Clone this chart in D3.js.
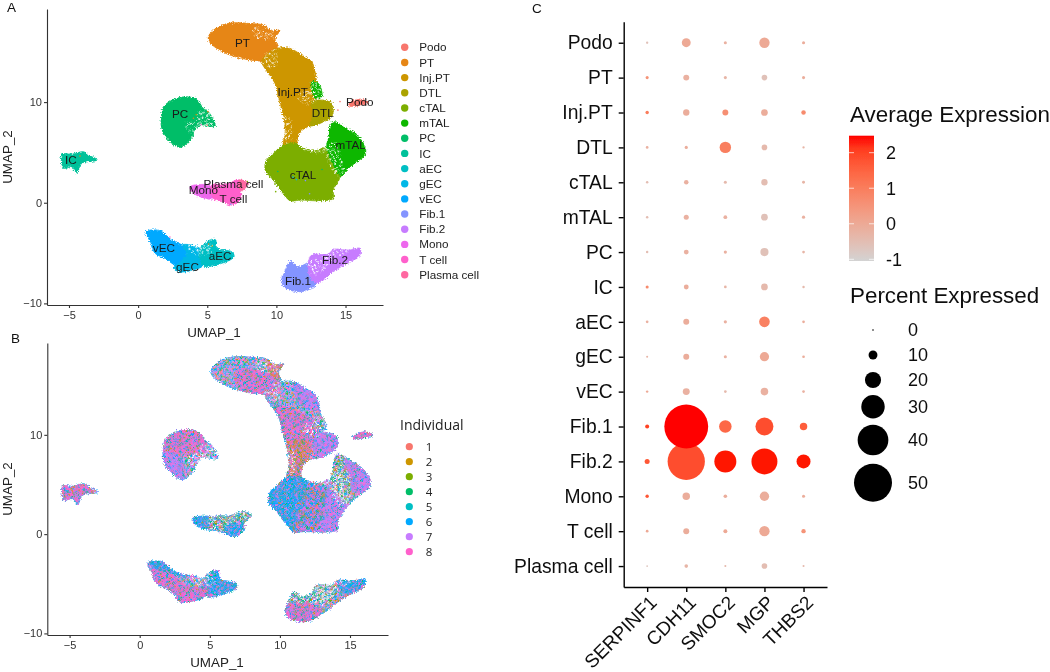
<!DOCTYPE html>
<html><head><meta charset="utf-8">
<script src="https://cdn.jsdelivr.net/npm/d3@7"></script>
<style>html,body{margin:0;padding:0;background:#fff}svg{display:block;font-family:"Liberation Sans",Arial,sans-serif}</style>
</head><body><svg id="c" width="1050" height="672"></svg>
<script>
// ---------- Data ----------
const clusters = ["Podo","PT","Inj.PT","DTL","cTAL","mTAL","PC","IC","aEC","gEC","vEC","Fib.1","Fib.2","Mono","T cell","Plasma cell"];
const clusterColors = ["#F8766D","#E68613","#CD9600","#ABA300","#7CAE00","#0CB702","#00BE67","#00C19A","#00BFC4","#00B8E7","#00A9FF","#8494FF","#C77CFF","#ED68ED","#FF61CC","#FF68A1"];
const individuals = ["1","2","3","4","5","6","7","8"];
const individualColors = ["#F8766D","#CD9600","#7CAE00","#00BE67","#00BFC4","#00A9FF","#C77CFF","#FF61CC"];
const genes = ["SERPINF1","CDH11","SMOC2","MGP","THBS2"];
const umapXTicks = [-5,0,5,10,15];
const umapYTicks = [-10,0,10];
const pctTicks = [0,10,20,30,40,50];
const exprTicks = [-1,0,1,2];

// Cluster outlines in UMAP units
const outlines = [
 ["PT",[[5.08,16.49],[5.45,17.15],[6.05,17.65],[6.89,17.88],[8.1,17.81],[9.06,17.65],[9.66,17.09],[10.27,17.15],[9.9,16.32],[10.07,15.33],[9.3,14.34],[9.06,14.11],[7.86,14.24],[6.65,14.67],[5.69,15.33],[5.16,15.99]]],
 ["Inj.PT",[[10.07,15.33],[10.99,15.33],[11.83,14.67],[12.55,14.01],[12.8,13.01],[12.92,11.85],[13.16,10.53],[12.55,10.03],[12.67,9.37],[12.55,7.55],[11.71,7.05],[11.47,5.89],[10.51,5.73],[10.63,6.89],[10.51,8.54],[10.14,10.53],[9.9,11.85],[9.42,12.85],[8.94,14.17]]],
 ["DTL",[[12.55,10.03],[13.88,10.03],[14.12,9.37],[14,8.54],[13.16,7.88],[12.43,7.38],[12.63,8.87]]],
 ["mTAL",[[12.55,12.02],[13.04,11.85],[13.28,10.53],[12.8,10.36]]],
 ["mTAL",[[13.88,7.55],[14.12,8.05],[15.08,7.38],[15.93,6.56],[16.41,5.56],[16.41,4.74],[15.81,4.07],[15.2,3.41],[14.6,2.58],[14.36,3.25],[13.76,4.24],[13.64,5.56]]],
 ["cTAL",[[10.51,5.73],[11.47,5.89],[12.19,5.4],[13.52,5.4],[13.88,4.24],[14.36,3.08],[14.6,2.58],[14.12,1.26],[14.12,0.43],[13.16,0.2],[11.71,0.26],[10.99,0.2],[10.39,1.09],[9.78,2.25],[9.18,3.25],[9.3,4.24],[9.78,4.9]]],
 ["PC",[[1.71,8.87],[1.83,9.54],[2.55,10.26],[3.52,10.53],[4.24,10.26],[4.72,9.37],[5.08,9.04],[5.57,7.62],[4.48,7.72],[4.12,7.22],[3.76,6.23],[3.04,5.5],[2.31,6.06],[1.83,6.89],[1.66,7.88]]],
 ["IC",[[-5.52,4.83],[-4.8,4.83],[-3.95,5.07],[-3.59,4.74],[-2.94,4.24],[-4.07,3.91],[-4.43,2.98],[-4.8,3.58],[-5.4,3.41],[-5.54,4.07]]],
 ["Mono",[[3.76,1.59],[4.72,1.82],[5.45,1.59],[5.45,0.43],[4.48,0.6],[3.88,1.09]]],
 ["T cell",[[5.33,1.75],[6.41,1.85],[7.25,2.25],[7.37,1.26],[7.49,0.6],[6.89,-0.23],[6.05,0.1],[5.45,0.43]]],
 ["Plasma cell",[[7.25,2.25],[7.98,1.92],[7.49,1.19],[7.37,1.26]]],
 ["vEC",[[0.58,-2.88],[1.59,-2.78],[2.43,-3.71],[3.16,-4.2],[3.52,-5.03],[2.8,-6.19],[1.95,-5.53],[1.23,-5.03],[0.87,-3.87]]],
 ["gEC",[[3.16,-4.2],[4.48,-4.54],[4.72,-6.19],[3.76,-6.75],[2.92,-6.85],[2.55,-6.36],[2.8,-6.19],[3.52,-5.03]]],
 ["aEC",[[4.48,-4.54],[5.57,-3.64],[5.73,-4.54],[6.77,-4.87],[6.94,-5.36],[6.17,-5.96],[4.72,-6.26]]],
 ["Fib.1",[[10.39,-7.52],[10.51,-7.19],[10.8,-6.19],[10.99,-5.79],[11.59,-6.36],[12.31,-6.03],[12.43,-7.35],[12.92,-8.01],[12.07,-8.77],[11.23,-8.77],[10.51,-8.34]]],
 ["Fib.2",[[12.31,-6.03],[12.55,-5.2],[13.76,-5.1],[14.12,-4.64],[15.2,-4.7],[16.05,-4.54],[16,-5.3],[15.08,-6.03],[14.12,-6.85],[13.4,-7.68],[12.92,-8.01],[12.43,-7.35]]],
 ["Podo",[[15.2,9.87],[16.1,10.3],[16.65,9.93],[16.05,9.7],[15.28,9.6]]]
];
// Empty and sparsely populated areas of the embedding
const holeOutline = [[11.59,6.56],[12.07,7.38],[13.16,7.62],[13.76,7.22],[13.59,5.89],[12.92,5.23],[12.07,5.4],[11.59,5.73]];
const sparseOutlines = [
 [[8.34,17.4],[9.66,17.1],[9.9,16.3],[8.4,16.5]],
 [[13.64,5.6],[14.3,6],[14.7,4.5],[14.9,3.3],[14.5,2.7],[13.8,3.8]],
 [[11.9,5.7],[13.6,5.5],[13.5,5],[12,5.2]],
 [[3.5,-4.2],[5.3,-4],[5.3,-4.9],[4.1,-5.2]],
 [[12.3,-6],[14,-5.2],[13.6,-6.6],[12.6,-7.2]],
 [[14.1,-4.7],[15.2,-4.8],[14.8,-5.3],[14,-5.2]],
 [[3.4,8],[4.5,8],[4.4,7],[3.6,7]],
 [[4.3,9],[5.5,8.8],[5.5,7.7],[4.4,7.8]],
 [[11.7,11],[12.9,11],[12.8,9.9],[11.7,10]],
 [[12.5,12],[13.1,11.9],[13.3,10.5],[12.8,10.3]],
 [[8.9,14.3],[10,15.3],[9.9,13.5],[9.3,13.5]],
 [[10.5,8.6],[11,8.4],[11,6],[10.6,6]]
];
// Areas of panel B where one individual dominates: [tile, outline]
const individualPatches = [
 ["pink",[[7,16.6],[9.5,16],[10,14.5],[9,13.9],[7.5,14.2],[6.8,15.2]]],
 ["orange",[[9.2,17.8],[10.4,17.4],[10.1,15.8],[9.2,16.2]]],
 ["pink",[[9.6,12.9],[11,12.6],[12.3,11.5],[12.6,9.6],[11.5,9],[10.3,9.6],[9.8,11.5]]],
 ["orange",[[10.4,9.2],[12.2,9.2],[12,7.2],[11.5,5.7],[10.4,5.7]]],
 ["purple",[[12.5,10.2],[14.2,10.2],[14.2,8.4],[12.6,7.8]]],
 ["purple",[[14.4,7.6],[16.6,5.5],[16,4.2],[15,4.5],[14.8,6]]],
 ["purple",[[11,15.4],[12.9,14],[12.9,12.5],[11.5,13]]],
 ["green",[[13.7,7.7],[14.4,7.7],[15,5.5],[15,3.5],[14.4,2.8],[13.8,4.2],[13.6,5.8]]],
 ["blue",[[9,5.2],[12,5.6],[12.8,3.5],[11.5,2.5],[10.8,0.1],[9,3]]],
 ["purple",[[11.2,0],[14.3,0],[14.8,2.6],[13.4,4.6],[12.5,4.2],[11.6,2.5]]],
 ["mix",[[10.9,0],[12.3,0],[13.3,4.7],[12.1,5.2],[11.5,2.8]]],
 ["pink",[[1.6,10.7],[4.4,10.7],[4.7,8.4],[2.8,8],[1.6,8.3]]],
 ["purple",[[1.6,8.2],[2.9,7.8],[3.1,5.4],[1.6,6.5]]],
 ["pink",[[-5.7,5.1],[-3.4,5.1],[-3.4,3.6],[-5.7,3.3]]],
 ["blue",[[3.6,2],[5,2],[5,0.6],[3.6,0.8]]],
 ["green",[[5,2],[8,2.3],[7.5,0.8],[5,0.6]]],
 ["blue",[[6.2,0.9],[7.6,0.9],[7.2,-0.4],[6.2,-0.4]]],
 ["pink",[[0.9,-3.3],[2,-3.6],[3.3,-5.2],[5,-5.5],[5,-6.9],[2.7,-7],[1,-5]]],
 ["blue",[[0.5,-2.7],[2.5,-2.7],[3.2,-4.2],[2.1,-3.9],[0.9,-3.4]]],
 ["blue",[[5,-3.5],[7,-4.5],[7,-5.5],[5,-6]]],
 ["pink",[[10.3,-6.7],[12.5,-7],[13,-8],[12,-8.9],[10.3,-8.4]]],
 ["green",[[10.8,-5.7],[12.5,-5],[14.2,-5],[13.5,-7],[12.5,-7],[10.3,-6.7]]],
 ["blue",[[14.1,-4.4],[16.1,-4.4],[16.1,-5.3],[14.6,-6],[14.2,-5.5]]],
 ["orange",[[14.1,-6.6],[15.6,-5.6],[16.1,-5],[16.1,-5.5],[15,-6.3],[14,-7]]],
 ["pink",[[15,10.4],[16.7,10.4],[16.7,9.5],[15,9.5]]]
];
// Individually visible stray cells: [UMAP_1, UMAP_2, cluster]
const strayCells = [[11.45,2.3,"vEC"],[11.2,2.55,"gEC"],[12.4,0.9,"Fib.1"],[12.1,2.2,"Fib.1"],[10.1,3.1,"PC"],[4,8.4,"PT"],[4.2,8.75,"Inj.PT"],[5.05,9.05,"PT"],[5,7.7,"Podo"],[4.55,7.75,"T cell"],[14.45,9.2,"Podo"],[14.6,10.05,"Podo"],[-4.2,4.65,"PT"],[5.35,-4.3,"Inj.PT"],[5.1,-4.1,"PT"],[2.3,-3.4,"T cell"],[6.7,-0.15,"Fib.1"],[7.9,2.1,"cTAL"],[13.3,3.3,"PC"],[9.95,1.1,"cTAL"]];

const dotRows = clusters;
const pctSerpinf1 = [1,2,2.5,1.5,1.2,1.2,1.2,2,1.5,0.6,1.2,3.3,4.7,2.5,1.5,0.3];
const pctCdh11    = [10,6,6.5,2.2,4,4.7,4.5,4.5,6,6,7.4,58,49,8,6,2.8];
const pctSmoc2    = [2,2,6,13.5,2,3,2.2,1.5,2.2,2,1.5,15,28,2.8,3.3,0.6];
const pctMgp      = [12,5.5,7,5.5,6.5,7,9,7,12.4,10.5,8.2,22.5,33.5,10.7,12,5.5];
const pctThbs2    = [2,2,4,1,1.8,2.2,1.5,1.2,1.5,1.5,1.5,8,17,2,3.8,0.6];
const expSerpinf1 = [-0.6,0.5,1,-0.2,-0.5,-0.5,-0.5,0.7,-0.2,-0.3,0,2,1.7,1.7,0,-0.7];
const expCdh11    = [0,-0.2,-0.1,-0.1,-0.2,-0.2,-0.2,-0.1,-0.1,-0.1,-0.2,2.47,1.85,-0.1,-0.1,-0.3];
const expSmoc2    = [-0.2,-0.3,0.6,0.95,-0.4,-0.2,-0.2,-0.3,-0.2,-0.2,-0.4,1.4,2.4,-0.1,0,-0.4];
const expMgp      = [0,-0.6,-0.1,-0.4,-0.5,-0.6,-0.6,-0.4,0.9,0,-0.2,1.85,2.4,-0.1,0,-0.5];
const expThbs2    = [-0.1,-0.1,0.7,-0.3,-0.3,-0.2,-0.3,-0.4,-0.1,-0.1,-0.2,1.6,2.4,-0.1,0.5,-0.4];
const pctByGene = [pctSerpinf1,pctCdh11,pctSmoc2,pctMgp,pctThbs2];
const expByGene = [expSerpinf1,expCdh11,expSmoc2,expMgp,expThbs2];

// Label anchors in UMAP units
const clusterLabels = [["PT",7.54,15.9],["Inj.PT",11.18,11.06],["DTL",13.35,8.94],["mTAL",15.37,5.73],["Podo",16.03,10],["PC",3.04,8.87],["IC",-4.87,4.24],["cTAL",11.93,2.8],["Plasma cell",6.89,1.89],["Mono",4.72,1.23],["T cell",6.89,0.36],["vEC",1.86,-4.5],["gEC",3.57,-6.36],["aEC",5.93,-5.33],["Fib.2",14.24,-5.63],["Fib.1",11.57,-7.78]];

// Texture tiles (style only): digits are individuals, w = white, . = clear
const tiles = {
 mix:["867468675867","678716864768","726586417268","786672858647","867841867576","472868186784","658267687872","786175426867","746828678415","678674818726","671884765248","846726784673"],
 pink:["888678884868","868884688728","788648878886","888287886488","468888768828","888768882678","828846887888","688887468286","887268888748","478888628887","886748878468","768828886888"],
 blue:["666866746664","768667668566","664666286676","586678666846","667466758666","846667668476","666586646687","766846876665","668667466486","456687668667","667668546676","864667668658"],
 purple:["777867787467","867778677787","778767867778","677487778677","787776877867","778678764777","867777487678","777867778776","476778677787","778877467877","687767787678","777486778767"],
 orange:["828228682482","288682828268","682828247828","828286822882","248828682828","828682288268","882828468282","628288282784","828468828828","282882672882","868228828468","228842882828"],
 green:["4w6845w2738w","74w2684w5w46","w528w7462w84","843w6w2745w7","2w6748w4w368","74w5w2846w72","w846372w5w84","5w284w7634w2","6742w5w8w746","4w8w6743w2w5","72w546w8w478","w684w2745w63"],
 sparse:["...w.....w..","w.....w.....","....w.....w.","..w.....w...",".....w......","w..w.....w.w",".....w......","..w.....w...","......w.....","w...w.....w.","..w....w....",".....w....w."]
};

// ---------- Layout ----------
const svg = d3.select("#c");
const defs = svg.append("defs");
const fs = defs.append("filter").attr("id","soft").attr("x","-5%").attr("y","-5%").attr("width","110%").attr("height","110%");
fs.append("feGaussianBlur").attr("stdDeviation",0.35);
const fc = defs.append("filter").attr("id","softC").attr("x","-5%").attr("y","-5%").attr("width","110%").attr("height","110%");
fc.append("feGaussianBlur").attr("stdDeviation",0.25);
// roughens the cell-cloud edges and breaks up the tile grid
const fr = defs.append("filter").attr("id","rough").attr("x","-5%").attr("y","-5%").attr("width","110%").attr("height","110%");
fr.append("feTurbulence").attr("type","fractalNoise").attr("baseFrequency",0.75).attr("numOctaves",2).attr("seed",7).attr("result","n");
fr.append("feDisplacementMap").attr("in","SourceGraphic").attr("in2","n").attr("scale",4.5).attr("xChannelSelector","R").attr("yChannelSelector","G").attr("result","d");
fr.append("feGaussianBlur").attr("in","d").attr("stdDeviation",0.35);
const cell = 1.6;
Object.entries(tiles).forEach(([name,rows])=>{
  const p = defs.append("pattern").attr("id","t-"+name).attr("patternUnits","userSpaceOnUse")
    .attr("width",rows[0].length*cell).attr("height",rows.length*cell);
  rows.forEach((r,y)=>[...r].forEach((ch,x)=>{
    if(ch===".") return;
    p.append("rect").attr("x",x*cell).attr("y",y*cell).attr("width",cell).attr("height",cell)
      .attr("fill",ch==="w"?"#fff":individualColors[+ch-1]);
  }));
});
const colorOf = d3.scaleOrdinal(clusters,clusterColors);
const domX=[-6.59,17.71], domY=[-10.16,19.25];

function umapAxes(g,x,y,yBase,xTitleX,xTitleY,yTitleX,yTitleY){
  const ax=g.append("g").attr("transform",`translate(0,${yBase})`).call(d3.axisBottom(x).tickValues(umapXTicks).tickSize(3).tickSizeOuter(0).tickPadding(3));
  const ay=g.append("g").attr("transform",`translate(${x.range()[0]},0)`).call(d3.axisLeft(y).tickValues(umapYTicks).tickSize(3).tickSizeOuter(0).tickPadding(2));
  [ax,ay].forEach(a=>{a.selectAll("path,line").attr("stroke","#333").attr("stroke-width",1.1);
    a.selectAll("text").attr("fill","#333").attr("font-size",11).attr("font-family","Liberation Sans");});
  g.append("text").attr("x",xTitleX).attr("y",xTitleY).attr("text-anchor","middle").attr("font-size",13.4).attr("fill","#222").text("UMAP_1");
  g.append("text").attr("transform",`translate(${yTitleX},${yTitleY}) rotate(-90)`).attr("text-anchor","middle").attr("font-size",13.4).attr("fill","#222").text("UMAP_2");
}

// ---------- Panel A ----------
const xA=d3.scaleLinear(domX,[47,383]), yA=d3.scaleLinear(domY,[305,9]);
const lineA=d3.line(d=>xA(d[0]),d=>yA(d[1])).curve(d3.curveCatmullRomClosed.alpha(0.5));
const cellsA=svg.append("g").attr("filter","url(#rough)");
cellsA.selectAll("path.cl").data(outlines).join("path").attr("class","cl")
  .attr("d",d=>lineA(d[1])).attr("fill",d=>colorOf(d[0])).attr("stroke",d=>colorOf(d[0])).attr("stroke-width",0.8);
cellsA.selectAll("path.sp").data(sparseOutlines).join("path").attr("class","sp").attr("d",lineA).attr("fill","url(#t-sparse)");
cellsA.append("path").attr("d",lineA(holeOutline)).attr("fill","#fff");
const gA=svg.append("g").attr("filter","url(#soft)");
gA.selectAll("circle.st").data(strayCells).join("circle").attr("class","st").attr("cx",d=>xA(d[0])).attr("cy",d=>yA(d[1])).attr("r",0.8).attr("fill",d=>colorOf(d[2]));
gA.selectAll("text.lab").data(clusterLabels).join("text").attr("class","lab").attr("x",d=>xA(d[1])).attr("y",d=>yA(d[2])).attr("dy","0.35em")
  .attr("text-anchor","middle").attr("font-size",11.7).attr("fill","#1a1a1a").text(d=>d[0]);
umapAxes(gA,xA,yA,305,214,337,12,157);
const yLegA=d3.scalePoint(clusters,[47.3,274.7]);
const legA=svg.append("g").attr("filter","url(#soft)");
legA.selectAll("circle").data(clusters).join("circle").attr("cx",404.7).attr("cy",d=>yLegA(d)).attr("r",3.7).attr("fill",d=>colorOf(d));
legA.selectAll("text").data(clusters).join("text").attr("x",419.3).attr("y",d=>yLegA(d)).attr("dy","0.35em").attr("font-size",11.7).attr("fill","#222").text(d=>d);

// ---------- Panel B ----------
const xB=d3.scaleLinear(domX,[47.3,388]), yB=d3.scaleLinear(domY,[635,343]);
const lineB=d3.line(d=>xB(d[0]),d=>yB(d[1])).curve(d3.curveCatmullRomClosed.alpha(0.5));
defs.append("clipPath").attr("id","cellsB").selectAll("path").data(outlines).join("path").attr("d",d=>lineB(d[1]));
const cellsB=svg.append("g").attr("filter","url(#rough)");
cellsB.selectAll("path.cl").data(outlines).join("path").attr("class","cl").attr("d",d=>lineB(d[1]))
  .attr("fill","url(#t-mix)").attr("stroke","url(#t-blue)").attr("stroke-width",1);
const clipB=cellsB.append("g").attr("clip-path","url(#cellsB)");
clipB.selectAll("path.pa").data(individualPatches).join("path").attr("class","pa").attr("d",d=>lineB(d[1])).attr("fill",d=>`url(#t-${d[0]})`);
cellsB.selectAll("path.sp").data(sparseOutlines).join("path").attr("class","sp").attr("d",lineB).attr("fill","url(#t-sparse)");
cellsB.append("path").attr("d",lineB(holeOutline)).attr("fill","#fff");
const gB=svg.append("g").attr("filter","url(#soft)");
umapAxes(gB,xB,yB,635,217,666.5,12,489);
const yLegB=d3.scalePoint(individuals,[446.7,551.7]);
const colorInd=d3.scaleOrdinal(individuals,individualColors);
const legB=svg.append("g").attr("filter","url(#soft)").attr("font-family","Open Sans");
legB.append("text").attr("x",400).attr("y",430).attr("font-size",14).attr("fill","#222").text("Individual");
legB.selectAll("circle").data(individuals).join("circle").attr("cx",409.3).attr("cy",d=>yLegB(d)).attr("r",3.6).attr("fill",d=>colorInd(d));
legB.selectAll("text.it").data(individuals).join("text").attr("class","it").attr("x",429).attr("y",d=>yLegB(d)).attr("dy","0.35em").attr("text-anchor","middle").attr("font-size",11.5).attr("fill","#222").text(d=>d);

// ---------- Panel C ----------
const xC=d3.scalePoint(genes,[623.7,827]).padding(0.6);
const yC=d3.scalePoint(dotRows,[21.8,587]).padding(0.6);
const rC=d3.scaleLinear([0,50],[0.8,19]);
const colorC=d3.scaleLinear([-1.05,2.47],["#D3D3D3","#FF0000"]).interpolate(d3.interpolateLab);
const dotData=genes.flatMap((g,i)=>dotRows.map((c,j)=>({g,c,pct:pctByGene[i][j],exp:expByGene[i][j]}))).reverse();
const gC=svg.append("g").attr("filter","url(#softC)");
gC.selectAll("circle").data(dotData).join("circle").attr("cx",d=>xC(d.g)).attr("cy",d=>yC(d.c)).attr("r",d=>rC(d.pct)).attr("fill",d=>colorC(d.exp));
const axCy=gC.append("g").attr("transform","translate(623.7,0)").call(d3.axisLeft(yC).tickSize(5).tickSizeOuter(0).tickPadding(6));
const axCx=gC.append("g").attr("transform","translate(0,587)").call(d3.axisBottom(xC).tickSize(5).tickSizeOuter(0).tickPadding(4));
[axCx,axCy].forEach(a=>{a.selectAll("path,line").attr("stroke","#000").attr("stroke-width",1.4);
  a.selectAll("text").attr("fill","#111").attr("font-size",19.3).attr("font-family","Liberation Sans");});
axCx.selectAll("text").attr("font-size",19).attr("text-anchor","end").attr("dy",0).attr("dx",0).attr("transform","translate(4,10.5) rotate(-45)");

// Legends of panel C
const lg=svg.append("g").attr("fill","#111").attr("filter","url(#softC)");
lg.append("text").attr("x",850).attr("y",121.5).attr("font-size",22.4).text("Average Expression");
const yBar=d3.scaleLinear([-1,2],[259.3,152.7]);
const grad=defs.append("linearGradient").attr("id","exprGrad").attr("x1",0).attr("x2",0).attr("y1",1).attr("y2",0);
d3.range(0,11).forEach(i=>grad.append("stop").attr("offset",i/10).attr("stop-color",colorC(-1.05+3.52*i/10)));
lg.append("rect").attr("x",849).attr("y",135.7).attr("width",25).attr("height",125.3).attr("fill","url(#exprGrad)");
lg.selectAll("line.tl").data(exprTicks).join("line").attr("class","tl").attr("x1",849).attr("x2",854).attr("y1",d=>yBar(d)).attr("y2",d=>yBar(d)).attr("stroke","#fff").attr("stroke-opacity",.7);
lg.selectAll("line.tr").data(exprTicks).join("line").attr("class","tr").attr("x1",869).attr("x2",874).attr("y1",d=>yBar(d)).attr("y2",d=>yBar(d)).attr("stroke","#fff").attr("stroke-opacity",.7);
lg.selectAll("text.tk").data(exprTicks).join("text").attr("class","tk").attr("x",886).attr("y",d=>yBar(d)).attr("dy","0.35em").attr("font-size",18).text(d=>d);
lg.append("text").attr("x",850).attr("y",303).attr("font-size",22.4).text("Percent Expressed");
const yPct=d3.scaleOrdinal(pctTicks,[330,355,380,406.7,440,482.7]);
lg.selectAll("circle").data(pctTicks).join("circle").attr("cx",873).attr("cy",d=>yPct(d)).attr("r",d=>rC(d)).attr("fill","#000");
lg.selectAll("text.pt").data(pctTicks).join("text").attr("class","pt").attr("x",908).attr("y",d=>yPct(d)).attr("dy","0.35em").attr("font-size",18).text(d=>d);

// Panel letters
const panelLetters=[["A",7,12],["B",11,343],["C",532,12.5]];
svg.selectAll("text.pl").data(panelLetters).join("text").attr("class","pl").attr("x",d=>d[1]).attr("y",d=>d[2]).attr("font-size",13.5).attr("fill","#111").text(d=>d[0]);
</script></body></html>
